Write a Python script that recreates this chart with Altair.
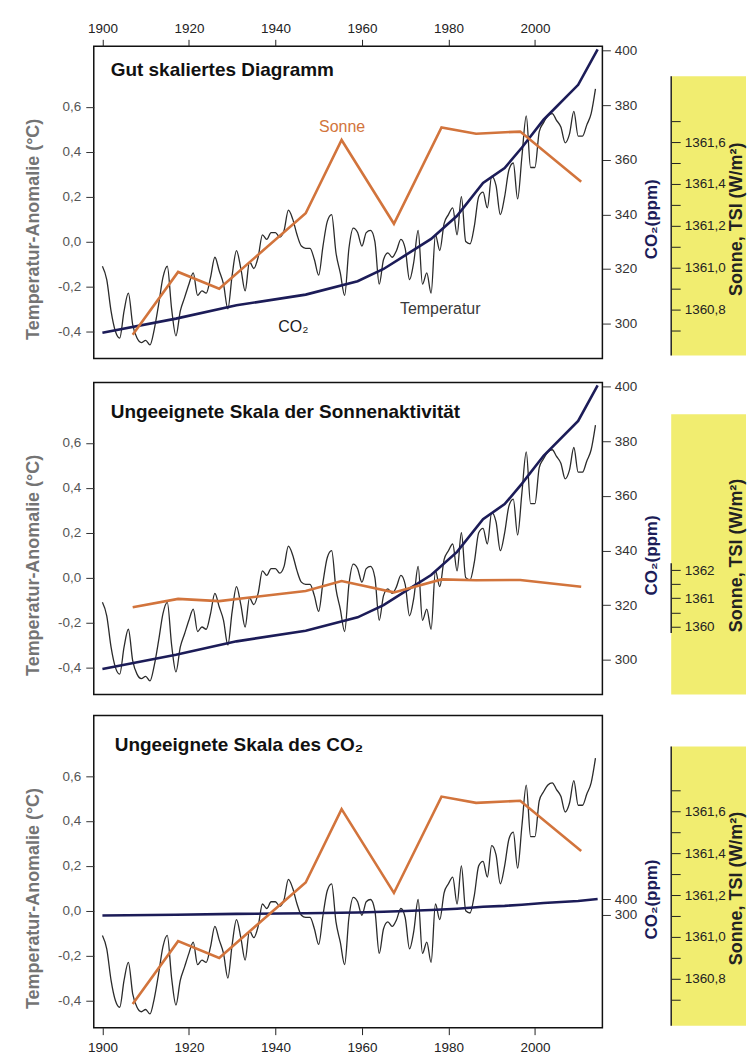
import altair as alt
import pandas as pd

# ---------------- data ----------------
temp_years = list(range(1900, 2015))
temp_values = [
    -0.11, -0.17, -0.31, -0.40, -0.43, -0.31, -0.23, -0.37, -0.43, -0.45,   # 1900-1909
    -0.44, -0.46, -0.39, -0.28, -0.16, -0.11, -0.30, -0.42, -0.31, -0.25,   # 1910-1919
    -0.19, -0.14, -0.24, -0.22, -0.23, -0.16, -0.07, -0.13, -0.19, -0.30,   # 1920-1929
    -0.15, -0.04, -0.12, -0.22, -0.09, -0.12, -0.07, 0.03, 0.01, 0.04,      # 1930-1939
    0.04, 0.02, 0.05, 0.14, 0.10, 0.03, -0.02, -0.03, -0.03, -0.08,         # 1940-1949
    -0.15, -0.02, 0.09, 0.12, -0.05, -0.14, -0.24, -0.03, 0.06, 0.04,       # 1950-1959
    -0.02, 0.04, 0.05, 0.00, -0.19, -0.08, -0.05, -0.07, -0.04, 0.01,       # 1960-1969
    -0.03, -0.17, -0.09, 0.05, -0.19, -0.14, -0.23, 0.03, -0.04, 0.08,      # 1970-1979
    0.12, 0.15, 0.03, 0.20, 0.00, -0.01, 0.07, 0.20, 0.22, 0.15,            # 1980-1989
    0.29, 0.25, 0.12, 0.20, 0.32, 0.35, 0.19, 0.38, 0.56, 0.33,             # 1990-1999
    0.33, 0.49, 0.53, 0.56, 0.57, 0.54, 0.51, 0.44, 0.48, 0.58,             # 2000-2009
    0.47, 0.47, 0.52, 0.57, 0.68,                                           # 2010-2014
]

co2_years = [1900, 1917, 1931, 1947, 1959, 1965, 1970, 1976, 1982, 1988, 1993, 1997, 2002, 2010, 2014.5]
co2_values = [296.6, 301.8, 306.7, 310.6, 315.5, 320.0, 325.0, 331.0, 339.5, 351.5, 357.0, 364.5, 374.7, 387.5, 400.5]

sun_years = [1907, 1917.5, 1927, 1947, 1955.3, 1967.4, 1978.4, 1986.4, 1996.6, 2010.7]
sun_values = [1360.68, 1360.98, 1360.90, 1361.26, 1361.61, 1361.21, 1361.67, 1361.64, 1361.65, 1361.41]

year_ticks = [1900, 1920, 1940, 1960, 1980, 2000]
temp_ticks = [-0.4, -0.2, 0.0, 0.2, 0.4, 0.6]
co2_ticks_fine = [300, 320, 340, 360, 380, 400]
co2_ticks_coarse = [300, 400]
tsi_ticks_fine = [1360.7, 1360.8, 1360.9, 1361.0, 1361.1, 1361.2, 1361.3, 1361.4, 1361.5, 1361.6, 1361.7]
tsi_ticks_coarse = [1360.0, 1360.5, 1361.0, 1361.5, 1362.0]

panel_titles = [
    "Gut skaliertes Diagramm",
    "Ungeeignete Skala der Sonnenaktivität",
    "Ungeeignete Skala des CO₂",
]
note_texts = ["Sonne", "CO₂", "Temperatur"]

# ---------------- layout / style ----------------
W, H, YW = 510, 313, 75
X_DOM = [1898.0, 2015.6]
T_DOM = [-0.521, 0.870]
FONT = "Liberation Sans"
C_TEMP = "#2b2b2b"
C_CO2 = "#1c1c58"
C_SUN = "#d2743c"
C_YELLOW = "#f1ed70"

df_temp = pd.DataFrame({"year": temp_years, "temp": temp_values})
df_co2 = pd.DataFrame({"year": co2_years, "co2": co2_values})
df_sun = pd.DataFrame({"year": sun_years, "tsi": sun_values})
one = pd.DataFrame({"k": [0]})

temp_label = "replace(replace(format(datum.value, '.1f'), '.', ','), '\u2212', '-')"


def main_panel(idx, x_orient, co2_dom, co2_ticks, co2_title_y, sun_dom, title_xy):
    if x_orient is None:
        x_axis = None
    else:
        x_axis = alt.Axis(orient=x_orient, values=year_ticks, format="d", tickSize=7,
                          labelPadding=4 if x_orient == "top" else 6, domain=False, grid=False,
                          labelFontSize=13.5, labelColor="#222", tickColor="#222", title=None)
    x_enc = alt.X("year:Q", scale=alt.Scale(domain=X_DOM, nice=False, zero=False), axis=x_axis)

    temp = alt.Chart(df_temp).mark_line(color=C_TEMP, strokeWidth=1.3, interpolate="monotone").encode(
        x=x_enc,
        y=alt.Y("temp:Q", scale=alt.Scale(domain=T_DOM, nice=False, zero=False),
                axis=alt.Axis(values=temp_ticks, labelExpr=temp_label, tickSize=8, labelPadding=5,
                              domain=False, grid=False, labelFontSize=13.5, labelColor="#555",
                              tickColor="#333", title="Temperatur-Anomalie (°C)", titleFontSize=18,
                              titleFontWeight="bold", titleColor="#747474", titleAngle=270,
                              titleX=-60, titleY=183, titleAlign="center", titleBaseline="middle")),
    )
    co2 = alt.Chart(df_co2).mark_line(color=C_CO2, strokeWidth=2.6).encode(
        x="year:Q",
        y=alt.Y("co2:Q", scale=alt.Scale(domain=co2_dom, nice=False, zero=False),
                axis=alt.Axis(orient="right", values=co2_ticks, format="d", tickSize=8, labelPadding=4,
                              domain=False, grid=False, labelFontSize=13.5, labelColor="#333",
                              tickColor="#333", title="CO₂(ppm)", titleFontSize=17,
                              titleFontWeight="bold", titleColor=C_CO2, titleAngle=270,
                              titleX=49, titleY=co2_title_y, titleAlign="center",
                              titleBaseline="middle")),
    )
    sun = alt.Chart(df_sun).mark_line(color=C_SUN, strokeWidth=2.6).encode(
        x="year:Q",
        y=alt.Y("tsi:Q", scale=alt.Scale(domain=sun_dom, nice=False, zero=False), axis=None),
    )
    title = alt.Chart(pd.DataFrame({"t": [panel_titles[idx]]})).mark_text(
        align="left", baseline="alphabetic", fontSize=19, fontWeight="bold", color="#111"
    ).encode(text="t:N", x=alt.value(title_xy[0]), y=alt.value(title_xy[1]))
    layers = [temp, co2, sun, title]
    if idx == 0:
        notes = [
            (note_texts[0], 249, 86, "center", C_SUN),
            (note_texts[1], 185, 286, "left", "#1a1a1a"),
            (note_texts[2], 307, 268, "left", "#3a3a3a"),
        ]
        for txt, nx, ny, al, col in notes:
            layers.append(
                alt.Chart(pd.DataFrame({"t": [txt]})).mark_text(
                    align=al, baseline="alphabetic", fontSize=16, color=col
                ).encode(text="t:N", x=alt.value(nx), y=alt.value(ny))
            )
    return alt.layer(*layers).resolve_scale(y="independent").properties(
        width=W, height=H, view=alt.ViewBackground(stroke="#111", strokeWidth=1.5, fill="white")
    )


def yellow_panel(sun_dom, ticks, label_expr, rect_y, line_span):
    bg = alt.Chart(one).mark_rect(color=C_YELLOW).encode(
        x=alt.value(0), x2=alt.value(YW), y=alt.value(rect_y[0]), y2=alt.value(rect_y[1])
    )
    axis_line = alt.Chart(pd.DataFrame({"lo": [line_span[0]], "hi": [line_span[1]]})).mark_rule(
        color="#222", strokeWidth=1.5
    ).encode(
        x=alt.value(0),
        y=alt.Y("lo:Q", scale=alt.Scale(domain=sun_dom, nice=False, zero=False),
                axis=alt.Axis(orient="right", offset=-YW, values=ticks, labelExpr=label_expr,
                              tickSize=9, labelPadding=4, domain=False, grid=False, zindex=2,
                              labelFontSize=13.5, labelColor="#222", tickColor="#222",
                              title="Sonne, TSI (W/m²)", titleFontSize=18, titleFontWeight="bold",
                              titleColor="#222", titleAngle=270, titleX=65, titleY=173,
                              titleAlign="center", titleBaseline="middle")),
        y2="hi:Q",
    )
    return alt.layer(bg, axis_line).properties(
        width=YW, height=H, view=alt.ViewBackground(stroke="transparent")
    )


fine_label = "round(datum.value * 10) % 2 == 0 ? replace(format(datum.value, '.1f'), '.', ',') : ''"
coarse_label = "round(datum.value * 2) % 2 == 0 ? format(datum.value, 'd') : ''"

SUN_DOM_FINE = [1360.567, 1362.057]
SUN_DOM_COARSE = [1357.59, 1368.65]

row1 = alt.hconcat(
    main_panel(0, "top", [287.2, 401.6], co2_ticks_fine, 173, SUN_DOM_FINE, (17, 30)),
    yellow_panel(SUN_DOM_FINE, tsi_ticks_fine, fine_label, (30, 310), (1360.581, 1361.914)),
    spacing=69, bounds="flush",
)
row2 = alt.hconcat(
    main_panel(1, None, [287.2, 401.6], co2_ticks_fine, 173, SUN_DOM_COARSE, (17, 36)),
    yellow_panel(SUN_DOM_COARSE, tsi_ticks_coarse, coarse_label, (32, 313), (1359.77, 1362.24)),
    spacing=69, bounds="flush",
)
row3 = alt.hconcat(
    main_panel(2, "bottom", [-406.0, 1550.0], co2_ticks_coarse, 184, SUN_DOM_FINE, (21, 36)),
    yellow_panel(SUN_DOM_FINE, tsi_ticks_fine, fine_label, (31, 311), (1360.576, 1361.909)),
    spacing=69, bounds="flush",
)

chart = alt.vconcat(row1, row2, row3, spacing=19, bounds="full").properties(
    padding={"left": 16, "top": 11, "right": 0, "bottom": 0},
    background="white",
).configure(font=FONT).configure_view(stroke="transparent")

chart.save("out.html", embed_options={"renderer": "svg", "actions": False})
